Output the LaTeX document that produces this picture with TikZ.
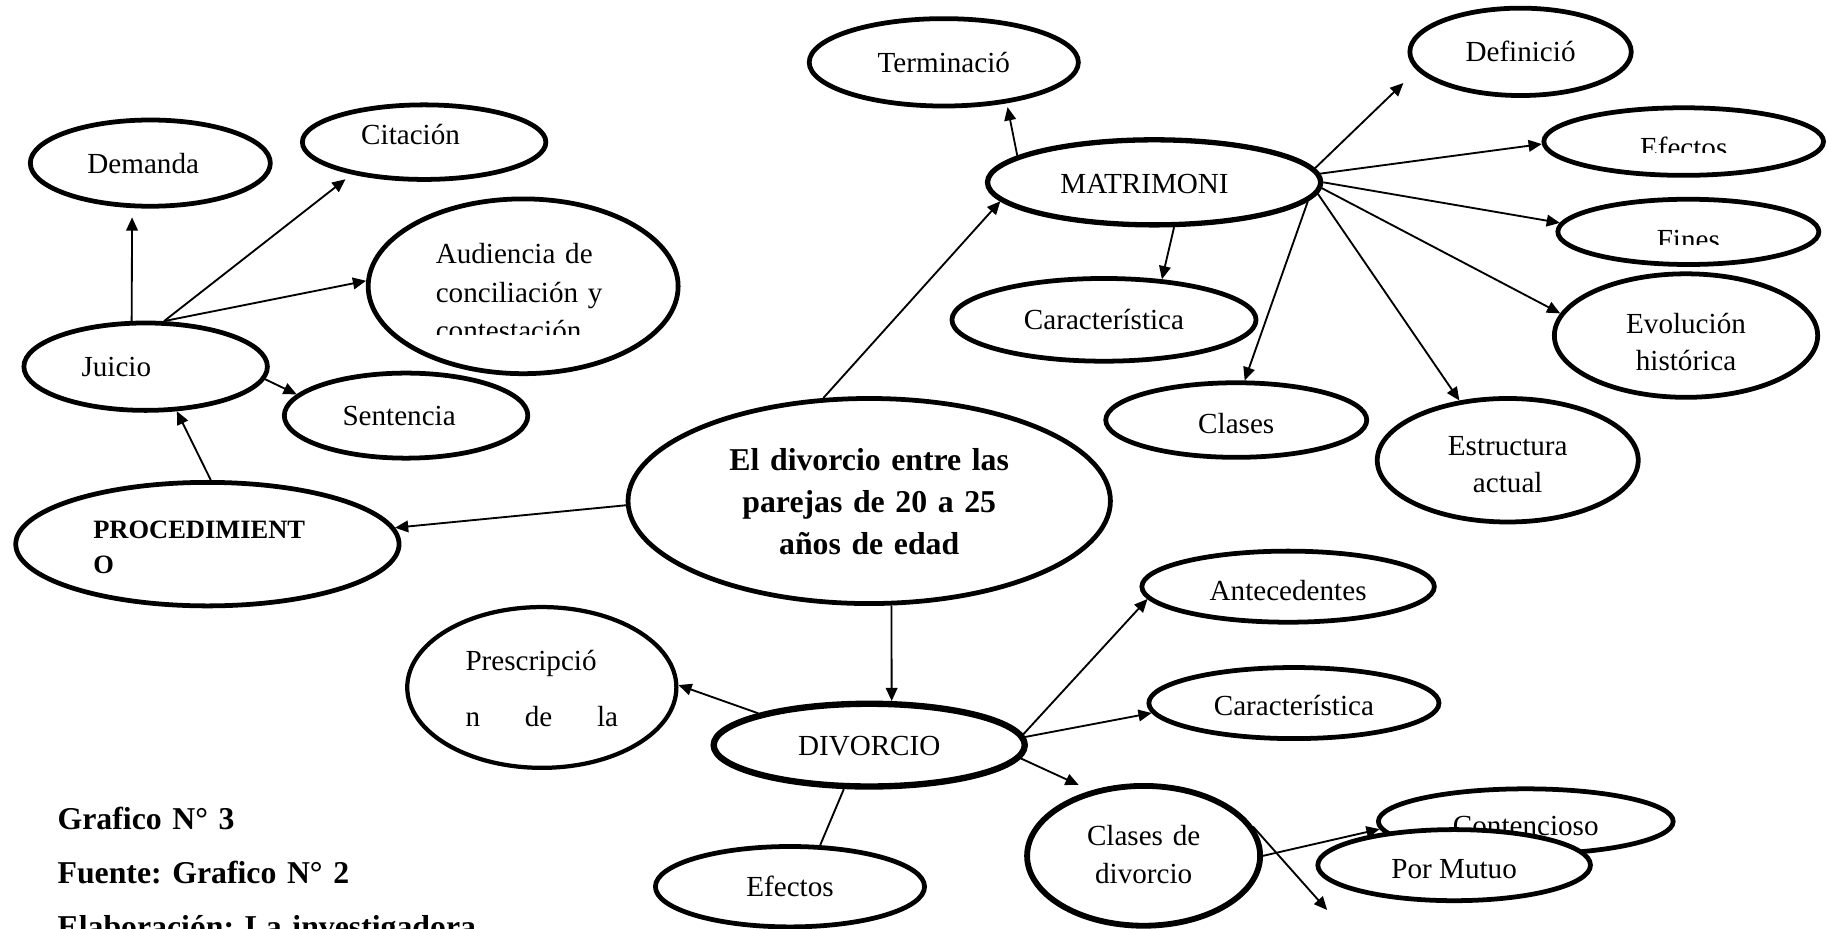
\documentclass[tikz,border=0pt]{standalone}
\usepackage{fontspec}
\setmainfont{Liberation Serif}
\usetikzlibrary{shapes.geometric,arrows.meta}
\frenchspacing
\tikzset{
	elipse/.style 2 args={draw, ellipse, fill=white, line width=1.8pt, inner sep=0pt,
		minimum width=#1*0.44pt, minimum height=#2*0.44pt, font=\fontsize{11}{14.5}\selectfont},
	flecha/.style={-{Triangle[length=5pt,width=4.4pt]}, line width=0.7pt},
	mascara/.style={fill=white}
}
\begin{document}
\begin{tikzpicture}[x=0.44pt,y=-0.44pt]
	\useasboundingbox (0,0) rectangle (1568,797);
	\node [elipse={206}{74}, text width=47.5pt, align=left] (demanda) at (129,140) {Demanda};
	\node [elipse={209}{64}, text width=47.5pt, align=left, text height=2.1pt] (citacion) at (364,122) {Citación};
	\node [elipse={266}{150}, text width=66pt, align=left, text height=12pt] (audiencia) at (449,245.7) {Audiencia de\\conciliación y\\contestación};
	\node [elipse={209}{75}, text width=48.4pt, align=left] (juicio) at (125,314.7) {Juicio};
	\node [elipse={209}{73}, text width=48pt, align=left] (sentencia) at (348.5,356.7) {Sentencia};
	\node [elipse={329}{106}, text width=86.2pt, align=left, text height=9.2pt,
		font=\bfseries\fontsize{10}{13.2}\selectfont] (procedimiento) at (178,467) {PROCEDIMIENT\\O};
	\node [elipse={414}{176}, text width=110pt, align=center, text height=8.8pt,
		font=\bfseries\fontsize{12}{15.8}\selectfont] (tema) at (746,430) {El divorcio entre las\\parejas de 20 a 25\\años de edad};
	\node [elipse={231}{75}] (terminacion) at (810,53.5) {Terminació};
	\node [elipse={286}{73}, line width=2pt, text width=70.8pt, align=left, text height=8.3pt] (matrimonio) at (990.5,156.5) {MATRIMONI};
	\node [elipse={190}{75}] (definicion) at (1305,44.5) {Definició};
	\node [elipse={240}{58}, text height=11.9pt] (efectosm) at (1445,121.5) {Efectos};
	\node [elipse={224}{56}, text height=13.2pt] (fines) at (1449,199) {Fines};
	\node [elipse={226}{106}, text width=50pt, align=center, text height=12.4pt,
		font=\fontsize{11}{14.1}\selectfont] (evolucion) at (1447,288) {Evolución\\histórica};
	\node [elipse={224}{106}, text width=50pt, align=center, text height=10.6pt,
		font=\fontsize{11}{14.1}\selectfont] (estructura) at (1294,395) {Estructura\\actual};
	\node [elipse={224}{64}, text height=10pt] (clases) at (1061,360.5) {Clases};
	\node [elipse={261}{71}] (caractm) at (947.5,274.5) {Característica};
	\node [elipse={267}{71}, line width=2.4pt, text height=8.2pt] (divorcio) at (746,639.5) {DIVORCIO};
	\node [elipse={231}{138}, line width=1.6pt, text width=57.6pt, align=left, text height=8.4pt,
		font=\fontsize{11}{21.1}\selectfont] (prescripcion) at (465,590) {Prescripció\\\makebox[57.6pt]{n\hfill de\hfill la}};
	\node [elipse={231}{69}] (efectosd) at (678,761) {Efectos};
	\node [elipse={251}{61}, text height=10.8pt] (antecedentes) at (1105.5,503.5) {Antecedentes};
	\node [elipse={249}{61}, text height=9.8pt] (caractd) at (1110.5,603.4) {Característica};
	\node [elipse={200}{120}, line width=2.2pt, text width=46pt, align=center, text height=6.7pt,
		font=\fontsize{11}{14.1}\selectfont] (clasesdiv) at (981.5,734.5) {Clases de\\divorcio};
	\node [elipse={253}{56}, text height=10.9pt] (contencioso) at (1309.5,705) {Contencioso};
	\node [elipse={234}{61}, text height=9.9pt] (mutuo) at (1248,742.5) {Por Mutuo};
	\node [anchor=base west, inner sep=0pt, text width=300pt, align=left,
		font=\bfseries\fontsize{12}{20.4}\selectfont] (grafico) at (49,712) {Grafico N° 3\\Fuente: Grafico N° 2\\Elaboración: La investigadora};
	\fill [mascara] (368,287.5) rectangle (530,300);
	\fill [mascara] (1395,131.6) rectangle (1495,142);
	\fill [mascara] (1415,210) rectangle (1485,220);
	\foreach \a/\b/\s in {juicio.107/demanda.248/3.5pt, juicio.68/citacion.204/3pt, juicio.68/audiencia.178/0pt,
			juicio.354/sentencia.169/0pt, procedimiento.87/juicio.305/0pt, tema.181/procedimiento.5/0pt,
			tema.114/matrimonio.187/0pt, tema.282/divorcio.63/0pt, matrimonio.169/terminacion.327/1.5pt,
			matrimonio.5/definicion.190/7pt, matrimonio.3/efectosm.181/0pt, matrimonio.0/fines.176/0pt,
			matrimonio.358/evolucion.170/0pt, matrimonio.356/estructura.129/0pt, matrimonio.353/clases.78/0pt,
			matrimonio.294/caractm.35/0pt, divorcio.164/prescripcion.1/0pt, divorcio.4/antecedentes.185/0pt,
			divorcio.3/caractd.184/0pt, divorcio.355/clasesdiv.129/5pt, clasesdiv.0/contencioso.183/0pt}{%
		\draw [flecha, shorten >=\s] (\a) -- (\b);
	}
	\draw [line width=0.7pt] (divorcio.240) -- (efectosd.54);
	\coordinate (suelta) at (1139,781);
	\draw [flecha] (clasesdiv.15) -- (suelta);
\end{tikzpicture}
\end{document}
